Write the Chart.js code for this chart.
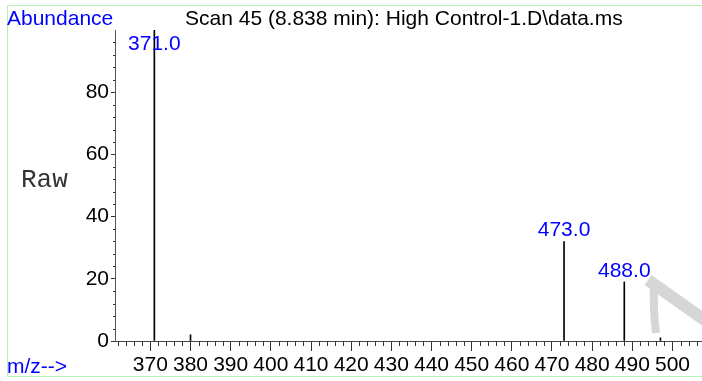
<!DOCTYPE html>
<html>
<head>
<meta charset="utf-8">
<script src="https://cdn.jsdelivr.net/npm/chart.js@4.4.0/dist/chart.umd.min.js"></script>
<style>
  html, body { margin: 0; padding: 0; background: #fff; }
  #wrap { width: 702px; height: 381px; }
</style>
</head>
<body>
<div id="wrap"><canvas id="spectrum" width="702" height="381"></canvas></div>
<script>
// spectrum peaks (m/z, abundance %)
const mzValues = [371, 380, 473, 488, 497];
const abundanceValues = [100, 2, 32, 19, 1];
const peakLabels = ["371.0", "", "473.0", "488.0", ""];

// axes
const xRange = [361.2, 507.1];
const yRange = [0, 100];
const xTickValues = [370, 380, 390, 400, 410, 420, 430, 440, 450, 460, 470, 480, 490, 500];
const yTickValues = [0, 20, 40, 60, 80];
const xMinorStep = 2;
const yMinorStep = 4;

const titleText = "Scan 45 (8.838 min): High Control-1.D\\data.ms";
const yTitleText = "Abundance";
const xTitleText = "m/z-->";
const sideText = "Raw";

const FONT = "'Liberation Sans', Arial, Helvetica, sans-serif";
const MONO = "'Courier New', Courier, 'Liberation Mono', monospace";

// frame, watermark and free texts
const decorPlugin = {
    id: "decor",
    beforeDraw(chart) {
        const { ctx, width } = chart;
        ctx.save();
        ctx.fillStyle = "#fff";
        ctx.fillRect(0, 0, chart.width, chart.height);

        // faint watermark stroke in the corner
        ctx.strokeStyle = "#d6d6d6";
        ctx.lineCap = "butt";
        ctx.lineWidth = 12;
        ctx.beginPath();
        ctx.moveTo(width - 54, 280);
        ctx.lineTo(width + 4, 321);
        ctx.stroke();
        ctx.lineWidth = 8;
        ctx.beginPath();
        ctx.moveTo(width - 48, 283);
        ctx.quadraticCurveTo(width - 49, 310, width - 46, 333);
        ctx.stroke();

        // light green frame
        ctx.strokeStyle = "#b6f2b6";
        ctx.lineWidth = 1;
        ctx.beginPath();
        ctx.moveTo(width, 5.5);
        ctx.lineTo(7.5, 5.5);
        ctx.lineTo(7.5, 376.5);
        ctx.lineTo(width, 376.5);
        ctx.stroke();
        ctx.restore();
    },
    afterDraw(chart) {
        const { ctx } = chart;
        const xs = chart.scales.x;
        const ys = chart.scales.y;
        ctx.save();

        // minor ticks
        ctx.strokeStyle = "#333";
        ctx.lineWidth = 1;
        ctx.beginPath();
        for (let v = Math.ceil(xRange[0] / xMinorStep) * xMinorStep; v <= xRange[1]; v += xMinorStep) {
            if (xTickValues.includes(v)) continue;
            const px = Math.round(xs.getPixelForValue(v)) + 0.5;
            ctx.moveTo(px, ys.bottom);
            ctx.lineTo(px, ys.bottom + 5);
        }
        for (let v = yRange[0]; v < yRange[1]; v += yMinorStep) {
            if (yTickValues.includes(v)) continue;
            const py = Math.round(ys.getPixelForValue(v)) + 0.5;
            ctx.moveTo(xs.left - 2, py);
            ctx.lineTo(xs.left, py);
        }
        ctx.stroke();

        // texts
        ctx.textBaseline = "alphabetic";
        ctx.textAlign = "left";
        ctx.font = "21px " + FONT;
        ctx.fillStyle = "#0000ff";
        ctx.fillText(yTitleText, 7, 25);
        ctx.fillText(xTitleText, 7, 373);
        ctx.fillStyle = "#000";
        ctx.fillText(titleText, 185, 25);
        ctx.font = "26px " + MONO;
        ctx.fillStyle = "#333";
        ctx.fillText(sideText, 21, 187);
        ctx.restore();
    }
};

// m/z labels above the peaks
const peakLabelPlugin = {
    id: "peakLabels",
    afterDatasetsDraw(chart) {
        const { ctx, chartArea } = chart;
        const meta = chart.getDatasetMeta(0);
        ctx.save();
        ctx.font = "21px " + FONT;
        ctx.fillStyle = "#0000ff";
        ctx.textAlign = "center";
        ctx.textBaseline = "alphabetic";
        meta.data.forEach((bar, i) => {
            if (!peakLabels[i]) return;
            const y = Math.max(bar.y - 5, chartArea.top + 20);
            ctx.fillText(peakLabels[i], bar.x, y);
        });
        ctx.restore();
    }
};

new Chart(document.getElementById("spectrum").getContext("2d"), {
    type: "bar",
    data: {
        datasets: [{
            data: mzValues.map((mz, i) => ({ x: mz, y: abundanceValues[i] })),
            backgroundColor: "#000",
            borderWidth: 0,
            barThickness: 1
        }]
    },
    options: {
        responsive: false,
        animation: false,
        layout: { padding: { top: 30, right: 1, left: 0, bottom: 0 } },
        plugins: {
            legend: { display: false },
            tooltip: { enabled: false }
        },
        scales: {
            x: {
                type: "linear",
                offset: false,
                min: xRange[0],
                max: xRange[1],
                afterBuildTicks: (scale) => { scale.ticks = xTickValues.map(value => ({ value })); },
                afterFit: (scale) => { scale.height = 40; },
                grid: { offset: false, drawOnChartArea: false, drawTicks: true, tickLength: 10, color: "#333" },
                border: { color: "#444" },
                ticks: {
                    autoSkip: false,
                    maxRotation: 0,
                    padding: 2,
                    color: "#000",
                    font: { family: FONT, size: 21 }
                }
            },
            y: {
                min: yRange[0],
                max: yRange[1],
                afterBuildTicks: (scale) => { scale.ticks = yTickValues.map(value => ({ value })); },
                afterFit: (scale) => { scale.width = 115; },
                grid: { drawOnChartArea: false, drawTicks: true, tickLength: 4, color: "#333" },
                border: { color: "#555" },
                ticks: {
                    padding: 2,
                    color: "#000",
                    font: { family: FONT, size: 21 }
                }
            }
        }
    },
    plugins: [decorPlugin, peakLabelPlugin]
});
</script>
</body>
</html>
